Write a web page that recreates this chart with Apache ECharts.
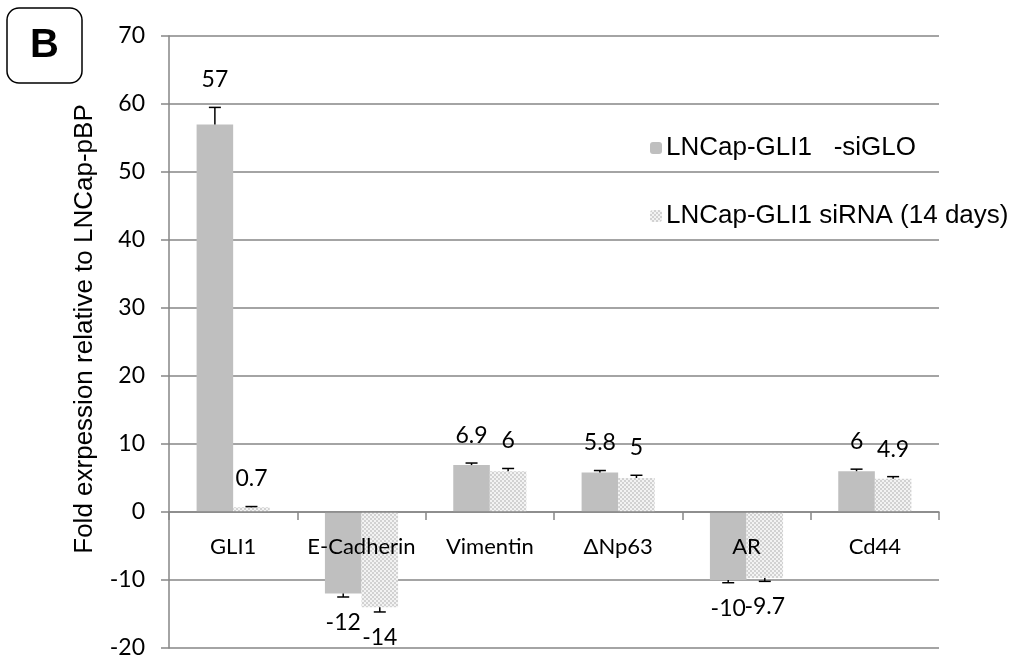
<!DOCTYPE html>
<html>
<head>
<meta charset="utf-8">
<script src="https://cdn.jsdelivr.net/npm/echarts@6/dist/echarts.min.js"></script>
<style>
html,body{margin:0;padding:0;background:#fff;}
#chart{width:1016px;height:658px;}
</style>
</head>
<body>
<div id="chart"></div>
<script>
var categories = ['GLI1', 'E-Cadherin', 'Vimentin', '\u0394Np63', 'AR', 'Cd44'];
var seriesNames = ['LNCap-GLI1   -siGLO', 'LNCap-GLI1 siRNA (14 days)'];
var siGLO = [57, -12, 6.9, 5.8, -10, 6];
var siGLOErr = [2.5, 0.5, 0.3, 0.3, 0.4, 0.3];
var siRNA = [0.7, -14, 6, 5, -9.7, 4.9];
var siRNAErr = [0.1, 0.7, 0.4, 0.4, 0.5, 0.3];
var yTicks = {min: -20, max: 70, interval: 10};

var W = 1016, H = 658;
var gridTop = 36, gridBottom = 10;
var plotH = H - gridTop - gridBottom;
var zeroOffset = -plotH * (0 - yTicks.min) / (yTicks.max - yTicks.min);

// checker pattern for second series
var pc = document.createElement('canvas');
pc.width = 4; pc.height = 4;
var g = pc.getContext('2d');
g.fillStyle = '#f3f3f3'; g.fillRect(0, 0, 4, 4);
g.fillStyle = '#d2d2d2'; g.fillRect(0, 0, 2, 2); g.fillRect(2, 2, 2, 2);
var patternColor = {image: pc, repeat: 'repeat'};

function errRender(sign) {
  return function (params, api) {
    var c = api.value(0), v = api.value(1), e = api.value(2);
    var bw = api.size([1, 0])[0];
    var x = api.coord([c, 0])[0] + sign * bw * 0.1425;
    var end = v >= 0 ? v + e : v - e;
    var y0 = api.coord([c, v])[1];
    var y1 = api.coord([c, end])[1];
    var pos = v >= 0;
    return {
      type: 'group',
      children: [
        {type: 'line', shape: {x1: x, y1: y0, x2: x, y2: y1}, style: {stroke: '#000', lineWidth: 1.5}},
        {type: 'line', shape: {x1: x - 6, y1: y1, x2: x + 6, y2: y1}, style: {stroke: '#000', lineWidth: 1.5}},
        {type: 'text', style: {
          text: String(v), x: x, y: pos ? y1 - 16 : y1 + 14,
          textAlign: 'center', textVerticalAlign: pos ? 'bottom' : 'top',
          font: '23px Lato', fill: '#000'
        }}
      ]
    };
  };
}

function errData(vals, errs) {
  return vals.map(function (v, i) { return [i, v, errs[i]]; });
}

var chart = echarts.init(document.getElementById('chart'), null, {renderer: 'canvas'});
chart.setOption({
  animation: false,
  grid: {left: 169, right: 77, top: gridTop, bottom: gridBottom, containLabel: false, outerBoundsMode: 'none'},
  legend: {
    orient: 'vertical', left: 645, top: 130, itemGap: 42,
    itemWidth: 12, itemHeight: 12,
    textStyle: {fontFamily: 'Liberation Sans', fontSize: 26, color: '#000', padding: [0, 0, 0, -1]},
    data: seriesNames
  },
  xAxis: {
    type: 'category', data: categories, z: 10,
    position: 'bottom', offset: zeroOffset,
    axisLine: {onZero: false, lineStyle: {color: '#868686', width: 1.5}},
    axisTick: {show: true, length: 8, inside: false, alignWithLabel: false, lineStyle: {color: '#868686', width: 1.5}},
    axisLabel: {interval: 0, margin: 24, fontFamily: 'Lato', fontSize: 22, color: '#000'},
    splitLine: {show: false}
  },
  yAxis: {
    type: 'value', min: yTicks.min, max: yTicks.max, interval: yTicks.interval,
    axisLine: {show: true, lineStyle: {color: '#868686', width: 1.5}},
    axisTick: {show: true, length: 8, lineStyle: {color: '#868686', width: 1.5}},
    axisLabel: {margin: 24, fontFamily: 'Lato', fontSize: 23, color: '#000'},
    splitLine: {show: true, lineStyle: {color: '#868686', width: 1.5}}
  },
  series: [
    {name: seriesNames[0], type: 'bar', data: siGLO, barWidth: '28.5%', barGap: '0%',
      itemStyle: {color: '#bfbfbf'}},
    {name: seriesNames[1], type: 'bar', data: siRNA, barWidth: '28.5%', barGap: '0%',
      itemStyle: {color: patternColor}},
    {type: 'custom', renderItem: errRender(-1), data: errData(siGLO, siGLOErr),
      encode: {x: 0, y: 1}, z: 5, silent: true},
    {type: 'custom', renderItem: errRender(1), data: errData(siRNA, siRNAErr),
      encode: {x: 0, y: 1}, z: 5, silent: true}
  ],
  graphic: [
    {type: 'rect', shape: {x: 7, y: 8, width: 75, height: 75, r: 12},
      style: {fill: '#fff', stroke: '#000', lineWidth: 1.5}},
    {type: 'text', x: 44.5, y: 46, style: {text: 'B', font: 'bold 40px Liberation Sans',
      textAlign: 'center', textVerticalAlign: 'middle', fill: '#000'}},
    {type: 'text', x: 85, y: 329, rotation: Math.PI / 2,
      style: {text: 'Fold exrpession relative to LNCap-pBP', font: '26px Liberation Sans',
        textAlign: 'center', textVerticalAlign: 'middle', fill: '#000'}}
  ]
});
</script>
</body>
</html>
